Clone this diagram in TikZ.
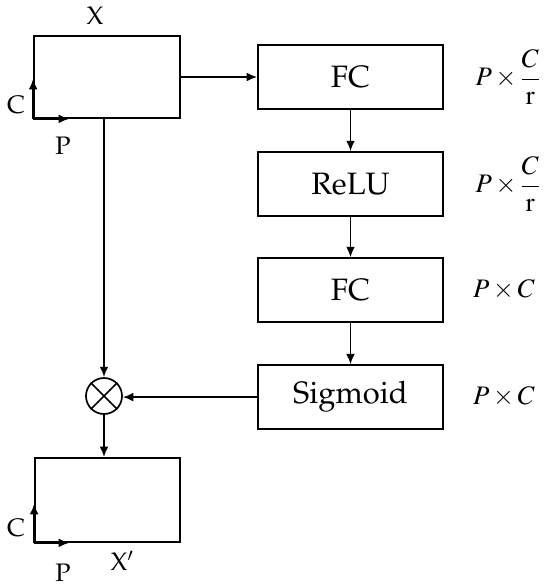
\documentclass[tikz,border=0pt]{standalone}
\usepackage[T1]{fontenc}
\usepackage{mathptmx}
\renewcommand{\rmdefault}{ppl}
\usepackage{amsmath}
\usepackage{tikz}
\usetikzlibrary{arrows.meta,positioning}
\newcommand{\boxfont}{\fontsize{22}{26}\selectfont}
\newcommand{\labfont}{\fontsize{18}{22}\selectfont}
\newcommand{\dimfont}{\fontsize{19}{23}\selectfont}
\tikzset{
  block/.style={
    rectangle, draw, line width=1.2pt,
    minimum width=4.625cm, minimum height=1.6cm,
    font=\boxfont, inner sep=0pt
  },
  featmap/.style={
    rectangle, draw, line width=1.2pt, inner sep=0pt
  },
  flow/.style={
    -{Latex[length=2.6mm,width=2.2mm]}, line width=1.2pt
  },
  axislabel/.style={
    font=\labfont, inner sep=0pt
  },
  dimlabel/.style={
    font=\dimfont, inner sep=0pt
  },
}

\begin{document}
\begin{tikzpicture}[x=0.025cm,y=-0.025cm]
  \useasboundingbox (0,0) rectangle (550,588);

  % Input feature map
  \node[featmap, minimum width=3.65cm, minimum height=2.05cm] (xin) at (107,77) {};
  \node[axislabel] (xname) at (95,16) {X};
  \coordinate (xo) at (xin.south west);
  \draw[flow] (xo) -- ++(0,-40) coordinate (xc);
  \draw[flow] (xo) -- ++(36,0) coordinate (xp);
  \node[axislabel] (xcl) at (16,105) {C};
  \node[axislabel] (xpl) at (63,146) {P};

  % Excitation branch
  \node[block] (fc1) at (350.5,77) {FC};
  \node[block, below=1.033cm of fc1] (relu) {ReLU};
  \node[block, below=1.008cm of relu] (fc2) {FC};
  \node[block, below=1.033cm of fc2] (sig) {Sigmoid};

  % Dimensions
  \node[dimlabel] (d1) at (508,77) {$P\times\dfrac{C}{\mathrm{r}}$};
  \node[dimlabel] (d2) at (508,184) {$P\times\dfrac{C}{\mathrm{r}}$};
  \node[dimlabel] (d3) at (504,290) {$P\times C$};
  \node[dimlabel] (d4) at (504,397) {$P\times C$};

  % Scale
  \node[circle, draw, line width=1.2pt, minimum size=0.9cm, inner sep=0pt] (mul) at (104,396) {};
  \draw[line width=1.2pt] (mul.45) -- (mul.225) (mul.135) -- (mul.315);

  % Output feature map
  \node[featmap, minimum width=3.625cm, minimum height=2.1cm] (xout) at (107.5,500) {};
  \coordinate (yo) at (xout.south west);
  \draw[flow] (yo) -- ++(0,-39) coordinate (yc);
  \draw[flow] (yo) -- ++(35,0) coordinate (yp);
  \node[axislabel] (ycl) at (16,528) {C};
  \node[axislabel] (ypl) at (63,573) {P};
  \node[axislabel] (yname) at (122,561) {X$'$};

  % Connections
  \draw[flow] (xin.east) -- (fc1.west);
  \draw[flow] (fc1) -- (relu);
  \draw[flow] (relu) -- (fc2);
  \draw[flow] (fc2) -- (sig);
  \draw[flow] (sig.west) -- (sig.west -| mul.east);
  \draw[flow] (mul.north |- xin.south) -- (mul.north);
  \draw[flow] (mul.south) -- (mul.south |- xout.north);
\end{tikzpicture}
\end{document}
